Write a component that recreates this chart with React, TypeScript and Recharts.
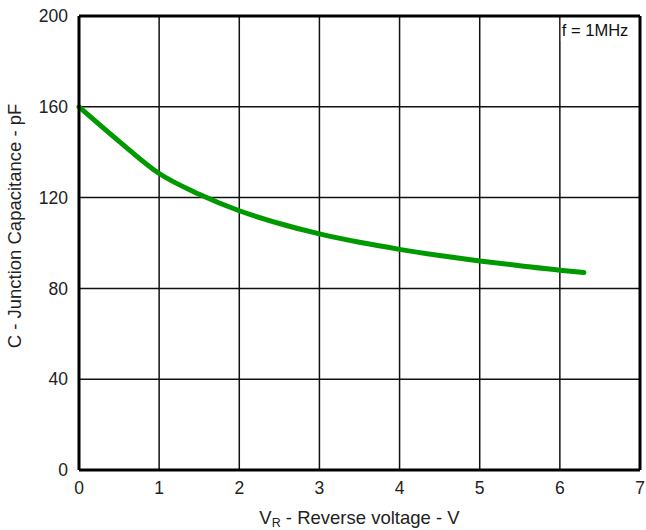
import React from "react";
import {
  LineChart,
  Line,
  XAxis,
  YAxis,
  CartesianGrid,
  ReferenceLine,
} from "recharts";

const voltages = [0, 0.5, 1, 1.5, 2, 2.5, 3, 3.5, 4, 4.5, 5, 5.5, 6, 6.3];
const capacitance = [160, 144.8, 130.6, 121.5, 114.2, 108.6, 104, 100.3, 97.2, 94.5, 92.1, 90, 88, 87];
const xTicks = [0, 1, 2, 3, 4, 5, 6, 7];
const yTicks = [0, 40, 80, 120, 160, 200];
const noteText = "f = 1MHz";

const data = voltages.map((v, i) => ({ v, c: capacitance[i] }));

const FONT = "'Liberation Sans', Arial, sans-serif";

const XLabel = (props: any) => {
  const vb = props.viewBox;
  const cx = vb.x + vb.width / 2;
  const y = vb.y + 53.5;
  return (
    <text x={cx} y={y} textAnchor="middle" fontFamily={FONT} fontSize={18.5} fill="#222">
      <tspan>V</tspan>
      <tspan dy={3} fontSize={12.5}>R</tspan>
      <tspan dy={-3}> - Reverse voltage - V</tspan>
    </text>
  );
};

const YLabel = (props: any) => {
  const vb = props.viewBox;
  const x = vb.x + 14;
  const y = vb.y + vb.height / 2 - 17;
  return (
    <text
      x={x}
      y={y}
      textAnchor="middle"
      dominantBaseline="central"
      transform={`rotate(-90, ${x}, ${y})`}
      fontFamily={FONT}
      fontSize={18.5}
      fill="#222"
    >
      C - Junction Capacitance - pF
    </text>
  );
};

const Note = (props: any) => {
  const vb = props.viewBox;
  const x = vb.x + 1;
  const y = vb.y + 2;
  return (
    <g>
      <rect x={x} y={y} width={74} height={23} fill="#fff" />
      <text x={x + 1} y={y + 18} fontFamily={FONT} fontSize={16.5} fill="#111">
        {noteText}
      </text>
    </g>
  );
};

export default function App() {
  return (
    <div style={{ position: "absolute", left: 0, top: 0, background: "#fff" }}>
      <LineChart
        width={646}
        height={530}
        data={data}
        margin={{ top: 16, right: 6, left: 0, bottom: 0 }}
      >
        <CartesianGrid stroke="#111" strokeWidth={1.5} />
        <XAxis
          dataKey="v"
          type="number"
          domain={[0, 7]}
          ticks={xTicks}
          height={60}
          tickLine={false}
          tickSize={6}
          tickMargin={6}
          axisLine={{ stroke: "#000", strokeWidth: 3 }}
          tick={{ fontFamily: FONT, fontSize: 17.5, fill: "#222" }}
          label={<XLabel />}
          interval={0}
        />
        <YAxis
          type="number"
          domain={[0, 200]}
          ticks={yTicks}
          width={79}
          tickLine={false}
          tickSize={6}
          tickMargin={5}
          axisLine={{ stroke: "#000", strokeWidth: 3 }}
          tick={{ fontFamily: FONT, fontSize: 17.5, fill: "#222" }}
          label={<YLabel />}
          interval={0}
        />
        <ReferenceLine y={200} stroke="#000" strokeWidth={3} />
        <ReferenceLine x={7} stroke="#000" strokeWidth={3} />
        <ReferenceLine x={6} stroke="none" label={<Note />} />
        <Line
          dataKey="c"
          type="monotone"
          stroke="#009a00"
          strokeWidth={5}
          strokeLinecap="round"
          dot={false}
          activeDot={false}
          isAnimationActive={false}
        />
      </LineChart>
    </div>
  );
}
